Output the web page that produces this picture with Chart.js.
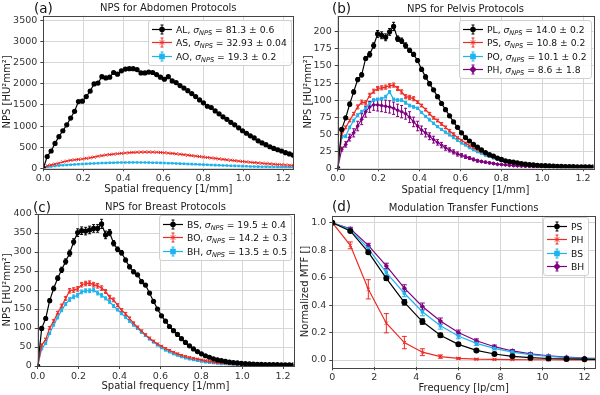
<!DOCTYPE html>
<html>
<head>
<meta charset="utf-8">
<script src="https://cdn.jsdelivr.net/npm/chart.js@4.4.1/dist/chart.umd.min.js"></script>
<style>
  body { margin: 0; background: #fff; font-family: "DejaVu Sans", sans-serif; }
  #fig { position: relative; width: 600px; height: 395px; overflow: hidden; background: #fff; }
  .panel { position: absolute; width: 300px; }
  .panel canvas { position: absolute; left: 0; top: 0; }
  .tag { position: absolute; font-size: 13.5px; line-height: 1; color: #111; }
  .legend { position: absolute; border: 1px solid #d0d0d0; border-radius: 3px; background: rgba(255,255,255,0.85);
            padding: 2px 4px 2px 3px; font-size: 9.2px; color: #111; }
  .legend .row { height: 13.3px; line-height: 13.3px; white-space: nowrap; display: flex; align-items: center; }
  .legend svg { margin-right: 4px; flex: none; }
  .legend sub { font-size: 6.6px; vertical-align: -2px; line-height: 0; }
</style>
</head>
<body>
<div id="fig">
  <div class="panel" style="left:0;top:0;height:197px">
    <canvas id="chartA" width="300" height="197"></canvas>
    <div class="tag" style="left:34px;top:2px">(a)</div>
    <div class="legend" id="legendA" style="left:148px;top:20px"></div>
  </div>
  <div class="panel" style="left:300px;top:0;height:197px">
    <canvas id="chartB" width="300" height="197"></canvas>
    <div class="tag" style="left:32px;top:2px">(b)</div>
    <div class="legend" id="legendB" style="left:159px;top:20px"></div>
  </div>
  <div class="panel" style="left:0;top:197px;height:198px">
    <canvas id="chartC" width="300" height="198"></canvas>
    <div class="tag" style="left:33px;top:4px">(c)</div>
    <div class="legend" id="legendC" style="left:159px;top:18px"></div>
  </div>
  <div class="panel" style="left:300px;top:197px;height:198px">
    <canvas id="chartD" width="300" height="198"></canvas>
    <div class="tag" style="left:32px;top:3px">(d)</div>
    <div class="legend" id="legendD" style="left:243px;top:20px"></div>
  </div>
</div>

<script>
'use strict';

// spatial frequency bins [1/mm]
const freq = [
  0, 0.0195, 0.0391, 0.0586, 0.0781, 0.0977, 0.1172, 0.1367, 0.1563, 0.1758,
  0.1953, 0.2148, 0.2344, 0.2539, 0.2734, 0.2930, 0.3125, 0.3320, 0.3516, 0.3711,
  0.3906, 0.4102, 0.4297, 0.4492, 0.4688, 0.4883, 0.5078, 0.5273, 0.5469, 0.5664,
  0.5859, 0.6055, 0.6250, 0.6445, 0.6641, 0.6836, 0.7031, 0.7227, 0.7422, 0.7617,
  0.7813, 0.8008, 0.8203, 0.8398, 0.8594, 0.8789, 0.8984, 0.9180, 0.9375, 0.9570,
  0.9766, 0.9961, 1.0156, 1.0352, 1.0547, 1.0742, 1.0938, 1.1133, 1.1328, 1.1523,
  1.1719, 1.1914, 1.2109, 1.2305, 1.2500,
];

// (a) abdomen
const npsAL = [
  0, 280, 410, 590, 750, 890, 1030, 1190, 1350, 1580,
  1590, 1700, 1830, 2000, 2020, 2170, 2140, 2160, 2270, 2230,
  2310, 2350, 2360, 2360, 2340, 2260, 2260, 2280, 2270, 2220,
  2160, 2110, 2170, 2070, 2030, 1960, 1900, 1840, 1770, 1700,
  1620, 1550, 1470, 1440, 1360, 1290, 1220, 1160, 1090, 1030,
  960, 890, 830, 770, 720, 650, 600, 560, 510, 470,
  440, 410, 370, 340, 310,
];
const npsAS = [
  0, 60, 80, 100, 120, 150, 170, 190, 200, 210,
  220, 235, 250, 265, 285, 300, 315, 325, 335, 345,
  355, 362, 370, 375, 380, 383, 385, 385, 383, 380,
  375, 368, 360, 352, 343, 333, 322, 311, 300, 289,
  278, 267, 256, 245, 234, 223, 212, 201, 191, 181,
  171, 161, 152, 143, 135, 127, 119, 111, 104, 97,
  90, 84, 78, 72, 66,
];
const npsAO = [
  0, 30, 45, 55, 65, 72, 80, 86, 92, 97,
  102, 107, 112, 116, 120, 124, 127, 130, 133, 135,
  137, 138, 139, 139, 139, 138, 137, 135, 133, 131,
  128, 125, 122, 118, 115, 111, 107, 103, 99, 95,
  91, 87, 83, 79, 75, 71, 67, 64, 60, 57,
  54, 51, 48, 45, 42, 40, 37, 35, 33, 31,
  29, 27, 25, 24, 22,
];

// (b) pelvis
const npsPL = [
  0, 57, 74, 94, 112, 130, 137, 161, 167, 180,
  197, 195, 192, 200, 208, 190, 187, 180, 173, 167,
  158, 145, 134, 124, 115, 105, 95, 86, 77, 68,
  60, 52, 45, 40, 35, 31, 27, 23, 20, 18,
  15, 13, 11, 10, 9, 8, 7, 6, 5.5, 5,
  4.5, 4, 3.8, 3.5, 3.2, 3, 2.8, 2.6, 2.5, 2.4,
  2.3, 2.2, 2.1, 2, 2,
];
const errPL = [
  0, 2, 2, 3, 3, 3, 3, 3, 4, 4,
  5, 5, 5, 5, 6, 4, 4, 4, 3, 3,
  3, 3, 3, 3, 2, 2, 2, 2, 2, 2,
  1, 1, 1, 1, 1, 1, 1, 1, 1, 1,
  1, 1, 1, 1, 1, 1, 1, 1, 1, 1,
  1, 1, 1, 1, 1, 1, 1, 1, 1, 1,
  1, 1, 1, 1, 1,
];
const npsPS = [
  0, 50, 60, 70, 80, 90, 97, 96, 107, 113,
  117, 118, 119, 121, 122, 117, 112, 105, 104, 102,
  97, 92, 86, 80, 74, 70, 65, 60, 55, 50,
  45, 41, 37, 33, 30, 27, 24, 21, 18, 16,
  14, 12, 10, 9, 8, 7, 6, 5, 4.5, 4,
  3.6, 3.3, 3, 2.8, 2.6, 2.5, 2.4, 2.3, 2.2, 2.2,
  2.1, 2.1, 2, 2, 2,
];
const errPS = [
  0, 2, 2, 2, 2, 3, 3, 3, 3, 3,
  3, 3, 3, 3, 3, 3, 3, 3, 3, 3,
  2, 2, 2, 2, 2, 2, 2, 2, 2, 2,
  1, 1, 1, 1, 1, 1, 1, 1, 1, 1,
  1, 1, 1, 1, 1, 1, 1, 1, 1, 1,
  1, 1, 1, 1, 1, 1, 1, 1, 1, 1,
  1, 1, 1, 1, 1,
];
const npsPO = [
  0, 46, 47, 60, 70, 78, 83, 88, 95, 100,
  101, 102, 105, 112, 101, 100, 100, 96, 92, 90,
  88, 82, 76, 71, 66, 61, 57, 53, 49, 45,
  41, 37, 34, 30, 27, 24, 22, 19, 17, 15,
  13, 11, 10, 9, 8, 7, 6, 5, 4.5, 4,
  3.6, 3.3, 3, 2.8, 2.6, 2.5, 2.4, 2.3, 2.2, 2.2,
  2.1, 2.1, 2, 2, 2,
];
const errPO = [
  0, 2, 2, 2, 2, 2, 2, 2, 2, 2,
  2, 2, 2, 2, 2, 2, 2, 2, 2, 2,
  1.5, 1.5, 1.5, 1.5, 1.5, 1.5, 1.5, 1.5, 1.5, 1.5,
  1, 1, 1, 1, 1, 1, 1, 1, 1, 1,
  1, 1, 1, 1, 1, 1, 1, 1, 1, 1,
  1, 1, 1, 1, 1, 1, 1, 1, 1, 1,
  1, 1, 1, 1, 1,
];
const npsPH = [
  0, 28, 35, 45, 52, 62, 72, 83, 90, 93,
  93, 92, 91, 90, 88, 85, 83, 80, 75, 68,
  62, 56, 52, 47, 42, 38, 34, 30, 27, 24,
  21, 19, 17, 15, 13, 11, 10, 9, 8, 7,
  6, 5.5, 5, 4.5, 4, 3.6, 3.3, 3, 2.8, 2.6,
  2.5, 2.4, 2.3, 2.2, 2.1, 2, 2, 2, 2, 2,
  2, 2, 2, 2, 2,
];
const errPH = [
  0, 3, 4, 5, 6, 7, 8, 8, 8, 8,
  9, 9, 9, 9, 9, 9, 9, 8, 8, 7,
  7, 6, 6, 5, 5, 4, 4, 3.5, 3, 3,
  3, 2.5, 2.5, 2, 2, 2, 1.5, 1.5, 1.5, 1.5,
  1, 1, 1, 1, 1, 1, 1, 1, 1, 1,
  1, 1, 1, 1, 1, 1, 1, 1, 1, 1,
  1, 1, 1, 1, 1,
];

// (c) breast
const npsBS = [
  0, 99, 125, 172, 204, 231, 253, 275, 297, 327,
  351, 356, 355, 358, 362, 362, 374, 345, 351, 323,
  307, 298, 279, 261, 248, 240, 222, 213, 192, 170,
  150, 132, 118, 104, 93, 83, 72, 62, 53, 45,
  38, 32, 27, 23, 19, 16, 14, 12, 10, 9,
  8, 7, 6, 5.5, 5, 4.5, 4.2, 4, 3.8, 3.6,
  3.4, 3.2, 3.1, 3, 3,
];
const errBS = [
  0, 5, 5, 5, 6, 6, 7, 7, 8, 8,
  10, 10, 10, 10, 10, 10, 12, 10, 8, 7,
  6, 6, 5, 5, 5, 4, 4, 4, 4, 3,
  3, 3, 3, 2, 2, 2, 2, 2, 2, 2,
  1, 1, 1, 1, 1, 1, 1, 1, 1, 1,
  1, 1, 1, 1, 1, 1, 1, 1, 1, 1,
  1, 1, 1, 1, 1,
];
const npsBO = [
  0, 55, 70, 100, 118, 140, 158, 178, 198, 200,
  203, 214, 217, 218, 214, 211, 205, 196, 181, 174,
  160, 147, 137, 125, 112, 102, 92, 82, 73, 65,
  58, 52, 46, 41, 36, 32, 28, 25, 22, 20,
  18, 16, 14, 12, 10, 9, 8, 7, 6, 5.5,
  5, 4.6, 4.3, 4, 3.8, 3.6, 3.4, 3.2, 3, 2.9,
  2.8, 2.7, 2.6, 2.5, 2.5,
];
const errBO = [
  0, 3, 3, 4, 4, 4, 5, 5, 6, 6,
  6, 6, 6, 6, 6, 6, 6, 5, 5, 5,
  4, 4, 4, 4, 4, 3, 3, 3, 3, 3,
  2, 2, 2, 2, 2, 2, 2, 2, 2, 2,
  1, 1, 1, 1, 1, 1, 1, 1, 1, 1,
  1, 1, 1, 1, 1, 1, 1, 1, 1, 1,
  1, 1, 1, 1, 1,
];
const npsBH = [
  0, 45, 60, 86, 108, 128, 147, 163, 175, 182,
  186, 195, 198, 198, 200, 192, 186, 178, 169, 158,
  148, 138, 128, 118, 108, 99, 89, 80, 71, 63,
  55, 48, 42, 37, 32, 28, 24, 21, 18, 16,
  14, 12, 10, 9, 8, 7, 6, 5.5, 5, 4.5,
  4, 3.8, 3.6, 3.4, 3.2, 3, 2.9, 2.8, 2.7, 2.6,
  2.5, 2.5, 2.4, 2.4, 2.3,
];
const errBH = [
  0, 2, 3, 3, 3, 4, 4, 4, 5, 5,
  5, 5, 5, 5, 5, 5, 5, 4, 4, 4,
  3, 3, 3, 3, 3, 3, 3, 2, 2, 2,
  2, 2, 2, 2, 2, 1, 1, 1, 1, 1,
  1, 1, 1, 1, 1, 1, 1, 1, 1, 1,
  1, 1, 1, 1, 1, 1, 1, 1, 1, 1,
  1, 1, 1, 1, 1,
];

// (d) MTF
const mtfFreq = [0, 0.857, 1.714, 2.571, 3.429, 4.286, 5.143, 6, 6.857, 7.714, 8.571, 9.429, 10.286, 11.143, 12, 12.857];
const mtfPS = [1, 0.94, 0.785, 0.595, 0.42, 0.28, 0.18, 0.114, 0.07, 0.044, 0.027, 0.017, 0.011, 0.008, 0.006, 0.005];
const mtfPH = [1, 0.835, 0.515, 0.268, 0.127, 0.057, 0.025, 0.012, 0.006, 0.004, 0.003, 0.002, 0.002, 0.001, 0.001, 0.001];
const mtfBS = [1, 0.95, 0.812, 0.637, 0.486, 0.352, 0.25, 0.175, 0.121, 0.085, 0.058, 0.04, 0.027, 0.018, 0.012, 0.008];
const mtfBH = [1, 0.955, 0.835, 0.685, 0.523, 0.39, 0.284, 0.2, 0.14, 0.097, 0.066, 0.045, 0.031, 0.021, 0.014, 0.01];
const errMtfPS = [0, 0.01, 0.012, 0.015, 0.02, 0.02, 0.015, 0.01, 0.008, 0.006, 0.005, 0.004, 0.003, 0.003, 0.002, 0.002];
const errMtfPH = [0, 0.025, 0.07, 0.07, 0.045, 0.025, 0.012, 0.006, 0.004, 0.003, 0.002, 0.002, 0.002, 0.002, 0.002, 0.002];
const errMtfBS = [0, 0.012, 0.015, 0.02, 0.025, 0.03, 0.025, 0.02, 0.015, 0.012, 0.01, 0.008, 0.006, 0.005, 0.004, 0.004];
const errMtfBH = [0, 0.012, 0.015, 0.02, 0.025, 0.025, 0.022, 0.018, 0.014, 0.012, 0.01, 0.008, 0.006, 0.005, 0.004, 0.004];

// legend names and sigma values
const namesA = ['AL', 'AS', 'AO'];
const sigmaA = ['81.3 ± 0.6', '32.93 ± 0.04', '19.3 ± 0.2'];
const namesB = ['PL', 'PS', 'PO', 'PH'];
const sigmaB = ['14.0 ± 0.2', '10.8 ± 0.2', '10.1 ± 0.2', '8.6 ± 1.8'];
const namesC = ['BS', 'BO', 'BH'];
const sigmaC = ['19.5 ± 0.4', '14.2 ± 0.3', '13.5 ± 0.5'];
const namesD = ['PS', 'PH', 'BS', 'BH'];

// tick labels
const npsXTicks = [0, 0.2, 0.4, 0.6, 0.8, 1.0, 1.2];
const yTicksA = [0, 500, 1000, 1500, 2000, 2500, 3000, 3500];
const yTicksB = [0, 25, 50, 75, 100, 125, 150, 175, 200];
const yTicksC = [0, 50, 100, 150, 200, 250, 300, 350, 400];
const mtfXTicks = [0, 2, 4, 6, 8, 10, 12];
const mtfYTicks = [0, 0.2, 0.4, 0.6, 0.8, 1.0];

const FONT = '"DejaVu Sans", sans-serif';
const BLACK = '#000000';
const RED = '#ee2a24';
const CYAN = '#1cb4ef';
const PURPLE = '#800080';

// error bars drawn under the markers
const errorBars = {
  id: 'errorBars',
  beforeDatasetsDraw(chart) {
    const { ctx, chartArea: a, scales: { x, y } } = chart;
    ctx.save();
    ctx.beginPath();
    ctx.rect(a.left, a.top, a.right - a.left, a.bottom - a.top);
    ctx.clip();
    chart.data.datasets.forEach(ds => {
      if (!ds.errors) return;
      ctx.strokeStyle = ds.borderColor;
      ctx.lineWidth = 1;
      ds.data.forEach((p, i) => {
        const e = ds.errors[i];
        if (!e) return;
        const px = x.getPixelForValue(p.x);
        const y1 = y.getPixelForValue(p.y - e);
        const y2 = y.getPixelForValue(p.y + e);
        const cap = ds.capSize || 1.5;
        ctx.beginPath();
        ctx.moveTo(px, y1); ctx.lineTo(px, y2);
        ctx.moveTo(px - cap, y1); ctx.lineTo(px + cap, y1);
        ctx.moveTo(px - cap, y2); ctx.lineTo(px + cap, y2);
        ctx.stroke();
      });
    });
    ctx.restore();
  },
};

// axes frame on all four sides
const frame = {
  id: 'frame',
  afterDraw(chart) {
    const { ctx, chartArea: a } = chart;
    ctx.save();
    ctx.strokeStyle = '#444';
    ctx.lineWidth = 1;
    ctx.strokeRect(Math.round(a.left) + 0.5, Math.round(a.top) + 0.5,
      Math.round(a.right - a.left), Math.round(a.bottom - a.top));
    ctx.restore();
  },
};

function swatch(ds) {
  const c = ds.borderColor;
  const r = ds.legendRadius;
  let m;
  if (ds.pointStyle === 'circle') {
    m = `<circle cx="10" cy="6.5" r="${r}" fill="${c}"/>`;
  } else if (ds.pointStyle === 'rect') {
    m = `<rect x="${10 - r}" y="${6.5 - r}" width="${2 * r}" height="${2 * r}" fill="${c}"/>`;
  } else if (ds.pointStyle === 'rectRot') {
    const d = r * 1.3;
    m = `<polygon points="10,${6.5 - d} ${10 + d},6.5 10,${6.5 + d} ${10 - d},6.5" fill="${c}"/>`;
  } else {
    m = `<path d="M${10 - r},${6.5 - r}L${10 + r},${6.5 + r}M${10 - r},${6.5 + r}L${10 + r},${6.5 - r}" stroke="${c}" stroke-width="1"/>`;
  }
  return `<svg width="20" height="13" viewBox="0 0 20 13">` +
    `<line x1="0" y1="6.5" x2="20" y2="6.5" stroke="${c}" stroke-width="1.2"/>` +
    `<path d="M10,2V11M8.5,2H11.5M8.5,11H11.5" stroke="${c}" stroke-width="1"/>${m}</svg>`;
}

// legend as html so the subscript stays real text
const htmlLegend = {
  id: 'htmlLegend',
  afterUpdate(chart, args, opts) {
    const box = document.getElementById(opts.containerID);
    if (!box) return;
    box.innerHTML = '';
    chart.data.datasets.forEach(ds => {
      const row = document.createElement('div');
      row.className = 'row';
      row.innerHTML = swatch(ds) + `<span>${ds.legendHtml}</span>`;
      box.appendChild(row);
    });
  },
};

function series(xs, ys, errs, name, sigma, color, style, radius) {
  return {
    label: sigma ? `${name}, σNPS = ${sigma}` : name,
    legendHtml: sigma ? `${name}, <i>σ</i><sub><i>NPS</i></sub> = ${sigma}` : name,
    data: xs.map((x, i) => ({ x, y: ys[i] })),
    errors: errs,
    borderColor: color,
    backgroundColor: color,
    borderWidth: 1.2,
    pointStyle: style,
    pointRadius: radius,
    pointBorderWidth: style === 'crossRot' ? 1 : 0,
    pointBorderColor: color,
    pointBackgroundColor: color,
    legendRadius: style === 'crossRot' ? 2.2 : 2.8,
    tension: 0,
  };
}

function makeChart(id, legendId, datasets, ax) {
  const tickFont = { family: FONT, size: 9.5 };
  const titleFont = { family: FONT, size: 10, lineHeight: 1 };
  return new Chart(document.getElementById(id), {
    type: 'line',
    data: { datasets },
    options: {
      responsive: false,
      animation: false,
      events: [],
      layout: { padding: { left: 0, right: ax.padRight, top: 0, bottom: 0 } },
      plugins: {
        legend: { display: false },
        tooltip: { enabled: false },
        title: {
          display: true,
          fullSize: false,
          text: ax.title,
          color: '#222',
          font: { family: FONT, size: 10, weight: 'normal', lineHeight: 1 },
          padding: { top: ax.titleTop, bottom: ax.titleBottom },
        },
        htmlLegend: { containerID: legendId },
      },
      scales: {
        x: {
          type: 'linear',
          min: 0,
          max: ax.xMax,
          afterFit: s => { s.height = ax.xAxisH; },
          afterBuildTicks: s => { s.ticks = ax.xTicks.map(v => ({ value: v })); },
          ticks: { color: '#333', font: tickFont, padding: 2, maxRotation: 0, callback: ax.xFmt },
          grid: { color: '#d6d6d6', lineWidth: 1, tickLength: 3, tickColor: '#444' },
          border: { display: false },
          title: { display: true, text: ax.xTitle, color: '#222', font: titleFont, padding: { top: 0, bottom: ax.xTitlePad } },
        },
        y: {
          type: 'linear',
          min: ax.yMin,
          max: ax.yMax,
          afterFit: s => { s.width = ax.yAxisW; },
          afterBuildTicks: s => { s.ticks = ax.yTicks.map(v => ({ value: v })); },
          ticks: { color: '#333', font: tickFont, padding: 3, callback: ax.yFmt },
          grid: { color: '#d6d6d6', lineWidth: 1, tickLength: 3, tickColor: '#444' },
          border: { display: false },
          title: { display: true, text: ax.yTitle, color: '#222', font: titleFont, padding: { top: ax.yTitlePad, bottom: 0 } },
        },
      },
    },
    plugins: [errorBars, frame, htmlLegend],
  });
}

const fmt1 = v => Number(v).toFixed(1);
const fmt0 = v => String(v);
const npsYTitle = 'NPS [HU²mm²]';
const npsXTitle = 'Spatial frequency [1/mm]';

makeChart('chartA', 'legendA', [
  series(freq, npsAL, null, namesA[0], sigmaA[0], BLACK, 'circle', 2.6),
  series(freq, npsAS, null, namesA[1], sigmaA[1], RED, 'crossRot', 2.2),
  series(freq, npsAO, null, namesA[2], sigmaA[2], CYAN, 'rect', 1.8),
], {
  title: 'NPS for Abdomen Protocols', titleTop: 3.3, titleBottom: 2.2,
  padRight: 6.7, xMax: 1.25, xTicks: npsXTicks, xFmt: fmt1, xAxisH: 28.7, xTitle: npsXTitle, xTitlePad: 3,
  yMin: 0, yMax: 3620, yTicks: yTicksA, yFmt: fmt0, yAxisW: 43.3, yTitle: npsYTitle, yTitlePad: 2.3,
});

makeChart('chartB', 'legendB', [
  series(freq, npsPL, errPL, namesB[0], sigmaB[0], BLACK, 'circle', 2.6),
  series(freq, npsPS, errPS, namesB[1], sigmaB[1], RED, 'crossRot', 2.2),
  series(freq, npsPO, errPO, namesB[2], sigmaB[2], CYAN, 'rect', 2),
  series(freq, npsPH, errPH, namesB[3], sigmaB[3], PURPLE, 'rectRot', 2.2),
], {
  title: 'NPS for Pelvis Protocols', titleTop: 4.3, titleBottom: 1.2,
  padRight: 6.7, xMax: 1.25, xTicks: npsXTicks, xFmt: fmt1, xAxisH: 28.7, xTitle: npsXTitle, xTitlePad: 2,
  yMin: 0, yMax: 224, yTicks: yTicksB, yFmt: fmt0, yAxisW: 37.7, yTitle: npsYTitle, yTitlePad: 3.3,
});

makeChart('chartC', 'legendC', [
  series(freq, npsBS, errBS, namesC[0], sigmaC[0], BLACK, 'circle', 2.6),
  series(freq, npsBO, errBO, namesC[1], sigmaC[1], RED, 'crossRot', 2.2),
  series(freq, npsBH, errBH, namesC[2], sigmaC[2], CYAN, 'rect', 2),
], {
  title: 'NPS for Breast Protocols', titleTop: 5.7, titleBottom: 1.3,
  padRight: 6.7, xMax: 1.25, xTicks: npsXTicks, xFmt: fmt1, xAxisH: 29, xTitle: npsXTitle, xTitlePad: 3.3,
  yMin: 0, yMax: 400, yTicks: yTicksC, yFmt: fmt0, yAxisW: 37.7, yTitle: npsYTitle, yTitlePad: 2.3,
});

makeChart('chartD', 'legendD', [
  Object.assign(series(mtfFreq, mtfPS, errMtfPS, namesD[0], null, BLACK, 'circle', 3), { capSize: 2.5 }),
  Object.assign(series(mtfFreq, mtfPH, errMtfPH, namesD[1], null, RED, 'crossRot', 2.4), { capSize: 2.5 }),
  Object.assign(series(mtfFreq, mtfBS, errMtfBS, namesD[2], null, CYAN, 'rect', 2.4), { capSize: 2.5 }),
  Object.assign(series(mtfFreq, mtfBH, errMtfBH, namesD[3], null, PURPLE, 'rectRot', 2.6), { capSize: 2.5 }),
], {
  title: 'Modulation Transfer Functions', titleTop: 6.3, titleBottom: 2.4,
  padRight: 5, xMax: 12.5, xTicks: mtfXTicks, xFmt: fmt0, xAxisH: 27.7, xTitle: 'Frequency [lp/cm]', xTitlePad: 1.7,
  yMin: -0.053, yMax: 1.051, yTicks: mtfYTicks, yFmt: fmt1, yAxisW: 32.3, yTitle: 'Normalized MTF []', yTitlePad: 0,
});
</script>
</body>
</html>
